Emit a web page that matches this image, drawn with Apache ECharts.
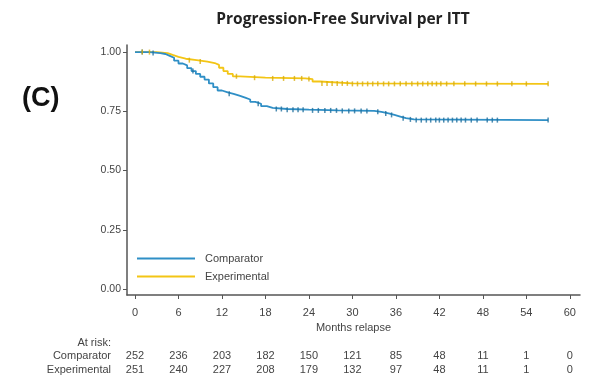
<!DOCTYPE html>
<html>
<head>
<meta charset="utf-8">
<script src="https://cdn.jsdelivr.net/npm/echarts@6/dist/echarts.min.js"></script>
<style>
  html, body { margin: 0; padding: 0; background: #fff; }
  #chart { width: 589px; height: 390px; }
</style>
</head>
<body>
<div id="chart"></div>
<script>
// Kaplan-Meier step data: event times (months) and survival estimates
const comparatorTimes = [0, 2.0, 3.5, 4.2, 4.8, 5.4, 6.0, 6.6, 7.2, 7.8, 8.4, 9.0, 9.6, 10.2, 10.8, 11.4, 12.0, 12.8, 13.6, 14.4, 15.2, 15.9, 16.6, 17.4, 18.2, 19.0, 21.0, 24.0, 28.0, 33.0, 34.0, 35.0, 35.8, 36.6, 37.4, 38.5, 57.0];
const comparatorSurv  = [1.000, 0.996, 0.992, 0.984, 0.976, 0.964, 0.952, 0.944, 0.932, 0.920, 0.908, 0.896, 0.884, 0.868, 0.852, 0.838, 0.830, 0.824, 0.816, 0.808, 0.800, 0.790, 0.782, 0.772, 0.765, 0.760, 0.757, 0.754, 0.752, 0.748, 0.741, 0.735, 0.728, 0.721, 0.716, 0.713, 0.713];

const experimentalTimes = [0, 3.0, 4.5, 5.2, 6.0, 7.0, 8.5, 10.0, 11.0, 11.6, 12.2, 12.8, 13.5, 14.5, 18.0, 23.5, 24.5, 25.5, 30.0, 57.0];
const experimentalSurv  = [1.000, 0.996, 0.988, 0.980, 0.972, 0.966, 0.960, 0.954, 0.946, 0.934, 0.920, 0.908, 0.898, 0.892, 0.889, 0.886, 0.876, 0.868, 0.866, 0.866];

// Censoring times (months)
const comparatorCensor = [1.0, 2.5, 8.0, 13.0, 17.0, 19.5, 20.2, 21.0, 21.8, 22.5, 23.2, 24.5, 25.3, 26.2, 27.0, 27.8, 28.6, 29.5, 30.3, 31.2, 32.0, 33.5, 34.6, 35.4, 37.0, 38.0, 38.8, 39.5, 40.2, 40.8, 41.5, 42.0, 42.6, 43.2, 43.8, 44.4, 45.0, 45.6, 46.4, 47.2, 48.6, 49.3, 50.0, 57.0];
const experimentalCensor = [1.0, 2.0, 7.5, 9.0, 14.0, 16.5, 19.0, 20.5, 22.0, 23.0, 24.0, 25.8, 26.5, 27.2, 27.9, 28.6, 29.3, 30.0, 30.7, 31.4, 32.1, 32.8, 33.5, 34.3, 35.0, 35.8, 36.6, 37.4, 38.2, 39.0, 39.7, 40.4, 41.0, 41.6, 42.2, 43.0, 44.0, 45.5, 47.0, 48.5, 50.0, 52.0, 54.0, 57.0];

// Numbers at risk
const riskMonths = [0, 6, 12, 18, 24, 30, 36, 42, 48, 54, 60];
const comparatorRisk = [252, 236, 203, 182, 150, 121, 85, 48, 11, 1, 0];
const experimentalRisk = [251, 240, 227, 208, 179, 132, 97, 48, 11, 1, 0];

const yTicks = [0, 0.25, 0.5, 0.75, 1.0];

const BLUE = '#2f8fc6';
const YELLOW = '#f3c515';
const AXIS = '#555';
const TXT = '#444';
const FONT = '"Liberation Sans", Arial, sans-serif';
const X_MIN = -1.1, X_MAX = 61.4;

function pairs(ts, ss) { return ts.map((t, i) => [t, ss[i]]); }
function survAt(ts, ss, t) {
  let v = ss[0];
  for (let i = 0; i < ts.length; i++) { if (ts[i] <= t) v = ss[i]; }
  return v;
}
function censorPts(cs, ts, ss) { return cs.map(t => [t, survAt(ts, ss, t)]); }

const riskAxis = (arr, offset) => ({
  type: 'value', min: X_MIN, max: X_MAX, position: 'bottom', offset: offset,
  axisLine: { show: false, onZero: false }, axisTick: { show: false }, splitLine: { show: false },
  axisLabel: {
    customValues: riskMonths, margin: 6,
    fontFamily: FONT, fontSize: 11, color: TXT,
    formatter: v => String(arr[riskMonths.indexOf(v)])
  }
});

const chart = echarts.init(document.getElementById('chart'), null, { renderer: 'canvas' });
chart.setOption({
  animation: false,
  backgroundColor: '#fff',
  title: {
    text: 'Progression-Free Survival per ITT',
    left: 338, top: 7, textAlign: 'center',
    textStyle: { fontFamily: '"Open Sans", sans-serif', fontWeight: 'bold', fontSize: 15.5, color: '#222' }
  },
  grid: { left: 127, right: 9, top: 45, bottom: 95, containLabel: false },
  legend: {
    orient: 'vertical', left: 137, top: 253, itemGap: 7, padding: 0,
    itemWidth: 58, itemHeight: 2, icon: 'rect',
    data: ['Comparator', 'Experimental'],
    textStyle: { fontFamily: FONT, fontSize: 11, color: TXT, padding: [0, 0, 0, 5] }
  },
  xAxis: [
    {
      type: 'value', min: X_MIN, max: X_MAX,
      name: 'Months relapse', nameLocation: 'middle', nameGap: 24,
      nameTextStyle: { fontFamily: FONT, fontSize: 11, color: TXT },
      axisLine: { show: true, onZero: false, lineStyle: { color: AXIS, width: 1.5 } },
      axisTick: { show: true, customValues: riskMonths, length: 4, lineStyle: { color: AXIS } },
      axisLabel: { customValues: riskMonths, margin: 12, fontFamily: FONT, fontSize: 11, color: TXT },
      splitLine: { show: false }
    },
    riskAxis(comparatorRisk, 49),
    riskAxis(experimentalRisk, 63)
  ],
  yAxis: {
    type: 'value', min: -0.025, max: 1.03,
    axisLine: { show: true, onZero: false, lineStyle: { color: AXIS, width: 1.5 } },
    axisTick: { show: true, customValues: yTicks, length: 4, lineStyle: { color: AXIS } },
    axisLabel: { customValues: yTicks, margin: 6, fontFamily: FONT, fontSize: 10.5, color: TXT, formatter: v => v.toFixed(2) },
    splitLine: { show: false }
  },
  graphic: [
    { type: 'text', left: 22, top: 85, style: { text: '(C)', font: 'bold 27px "Liberation Sans", Arial, sans-serif', fill: '#111' } },
    { type: 'text', right: 478, top: 337, style: { text: 'At risk:', font: '11px "Liberation Sans", Arial, sans-serif', fill: TXT, textAlign: 'right' } },
    { type: 'text', right: 478, top: 350, style: { text: 'Comparator', font: '11px "Liberation Sans", Arial, sans-serif', fill: TXT, textAlign: 'right' } },
    { type: 'text', right: 478, top: 364, style: { text: 'Experimental', font: '11px "Liberation Sans", Arial, sans-serif', fill: TXT, textAlign: 'right' } }
  ],
  series: [
    {
      name: 'Comparator', type: 'line', step: 'end', showSymbol: false,
      data: pairs(comparatorTimes, comparatorSurv),
      lineStyle: { color: BLUE, width: 1.8 }, itemStyle: { color: BLUE }, z: 3
    },
    {
      name: 'Experimental', type: 'line', step: 'end', showSymbol: false,
      data: pairs(experimentalTimes, experimentalSurv),
      lineStyle: { color: YELLOW, width: 1.8 }, itemStyle: { color: YELLOW }, z: 2
    },
    {
      name: 'Comparator censored', type: 'scatter', symbol: 'rect', symbolSize: [1.5, 5],
      data: censorPts(comparatorCensor, comparatorTimes, comparatorSurv),
      itemStyle: { color: '#1f6f9e' }, z: 4, silent: true
    },
    {
      name: 'Experimental censored', type: 'scatter', symbol: 'rect', symbolSize: [1.5, 5],
      data: censorPts(experimentalCensor, experimentalTimes, experimentalSurv),
      itemStyle: { color: '#d9ad0a' }, z: 4, silent: true
    }
  ]
});
</script>
</body>
</html>
